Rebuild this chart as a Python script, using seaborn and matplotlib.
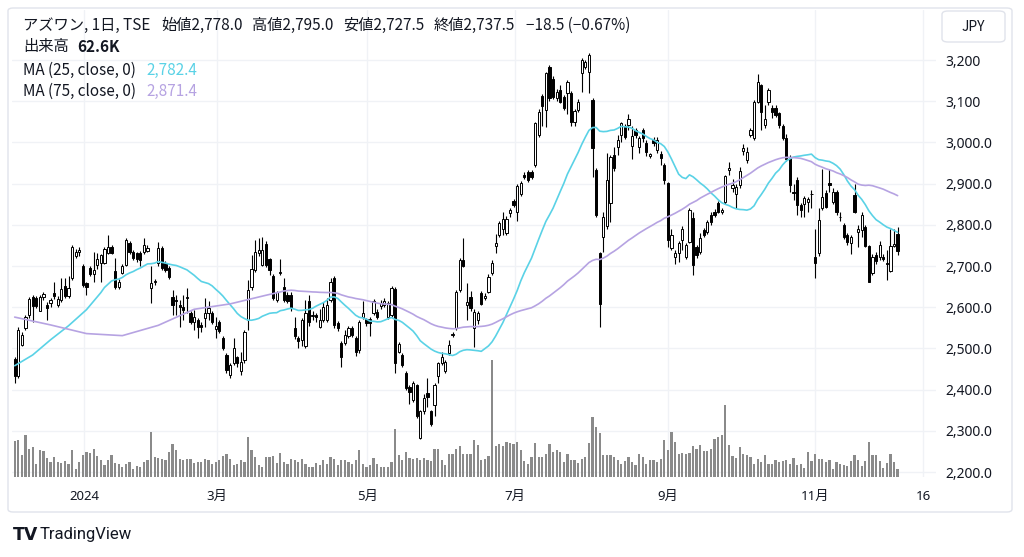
import numpy as np
import pandas as pd
import matplotlib
matplotlib.use("Agg")
import matplotlib.pyplot as plt
import seaborn as sns
from matplotlib.patches import FancyBboxPatch

# ---------------- data ----------------
opens = [2474,2432,2509,2549,2581,2626,2622,2592,2624,2606,2610,2634,2606,2618,2652,2627,2670,2725,2733,2699,2658,2695,2681,2703,2707,2708,2731,2747,2689,2650,2684,2703,2755,
         2735,2731,2731,2735,2737,2646,2660,2707,2743,2707,2695,2624,2618,2606,2600,2622,2585,2565,2569,2557,2573,2585,2585,2547,2565,2525,2484,2436,2464,2478,
         2444,2472,2569,2650,2690,2731,2703,2754,2716,2676,2618,2684,2650,2630,2630,2549,2525,2521,2505,2614,2578,2580,2553,2569,2569,2618,2670,2561,2513,2513,2529,
         2549,2525,2496,2577,2571,2572,2585,2589,2602,2606,2577,2581,2644,2492,2484,2440,2407,2375,2410,2282,2347,2391,2347,2363,2432,2464,2444,2488,2532,2549,2642,
         2714,2605,2626,2549,2569,2634,2623,2638,2682,2749,2775,2791,2779,2828,2858,2832,2876,2921,2929,2929,2945,3018,3113,3079,3184,3153,3107,3127,
         3111,3119,3119,3050,3078,3168,3184,3172,3103,2933,2731,2771,2796,2852,2969,2989,3018,3040,3042,2991,3030,2989,3030,2999,2967,3006,2981,2973,2945,2901,
         2743,2723,2731,2763,2723,2759,2816,2747,2735,2787,2783,2824,2832,2854,2830,2856,2933,2889,2876,2897,2978,2957,3018,3010,3099,3139,3042,3099,3083,3083,3071,
         3040,3010,2965,2880,2909,2848,2850,2856,2874,2721,2731,2840,2878,2902,2856,2880,2818,2800,2775,2755,2872,2783,2787,2795,2749,2682,2727,2723,2723,2707,2689,2749,2778]
highs = [2480,2552,2540,2581,2625,2630,2628,2630,2636,2612,2622,2660,2628,2670,2672,2675,2750,2742,2745,2705,2662,2700,2733,2731,2730,2745,2776,2752,2720,2668,2705,2768,2760,
         2740,2735,2736,2767,2750,2699,2668,2759,2748,2712,2700,2642,2630,2618,2630,2646,2590,2593,2575,2565,2622,2614,2590,2577,2570,2530,2490,2465,2525,2482,
         2492,2545,2666,2727,2763,2767,2771,2760,2720,2680,2640,2716,2672,2636,2636,2577,2530,2575,2618,2630,2590,2585,2595,2612,2622,2670,2675,2566,2518,2545,2555,
         2555,2530,2570,2614,2575,2576,2620,2595,2618,2622,2615,2652,2648,2515,2488,2444,2410,2420,2413,2350,2390,2428,2350,2415,2468,2492,2472,2520,2540,2642,2720,
         2767,2658,2640,2595,2590,2640,2634,2680,2714,2778,2810,2830,2822,2842,2862,2898,2906,2928,2934,2933,3050,3080,3118,3172,3188,3160,3130,3140,
         3115,3152,3125,3082,3105,3205,3200,3217,3108,2937,2735,2830,2975,2970,2990,3018,3050,3045,3070,3040,3036,3015,3035,3005,2975,3012,3012,2978,2950,2905,
         2790,2740,2760,2796,2755,2840,2830,2752,2780,2792,2812,2830,2838,2858,2842,2922,2953,2910,2898,2940,2995,2990,3035,3104,3167,3142,3090,3132,3090,3090,3075,
         3045,3020,2970,2900,2915,2852,2870,2868,2885,2790,2840,2935,2885,2935,2890,2885,2830,2805,2780,2776,2900,2800,2830,2800,2752,2730,2735,2760,2728,2740,2790,2790,2795]
lows = [2416,2428,2505,2545,2575,2565,2598,2590,2618,2569,2600,2620,2600,2612,2622,2622,2665,2720,2725,2650,2630,2675,2662,2692,2662,2705,2728,2728,2645,2645,2680,2700,2730,
        2714,2710,2700,2730,2733,2610,2655,2700,2690,2686,2668,2581,2581,2551,2569,2585,2560,2545,2525,2540,2553,2569,2560,2525,2538,2495,2440,2428,2460,2455,
        2436,2465,2545,2642,2686,2725,2700,2698,2678,2618,2612,2678,2612,2610,2592,2522,2500,2505,2500,2555,2570,2565,2549,2565,2565,2612,2550,2543,2456,2508,2525,
        2528,2482,2490,2572,2555,2529,2580,2572,2596,2600,2572,2576,2440,2488,2455,2398,2366,2370,2330,2280,2340,2358,2312,2335,2415,2460,2440,2484,2528,2545,2638,
        2698,2569,2590,2504,2560,2605,2618,2634,2678,2731,2770,2775,2775,2820,2843,2810,2870,2910,2904,2912,2940,3012,3040,3038,3100,3105,3100,3095,
        3078,3070,3040,3040,3074,3123,3178,3120,2917,2820,2553,2735,2790,2806,2930,2970,3000,3008,3030,2960,3010,2975,3000,2968,2962,2992,2975,2945,2900,2745,
        2738,2706,2710,2740,2718,2755,2678,2720,2728,2770,2778,2800,2818,2828,2826,2850,2920,2880,2840,2890,2970,2950,3012,3005,3095,3030,3035,3090,3060,3062,3035,
        3005,2955,2880,2860,2825,2820,2820,2830,2840,2672,2725,2835,2840,2880,2850,2825,2810,2765,2750,2730,2828,2745,2770,2745,2660,2678,2705,2715,2712,2665,2685,2745,2727.5]
closes = [2432,2545,2533,2577,2619,2603,2603,2624,2632,2598,2618,2627,2619,2644,2627,2646,2746,2735,2738,2654,2650,2681,2691,2716,2727,2741,2747,2731,2650,2662,2700,2762,2735,
          2719,2716,2715,2751,2743,2658,2663,2743,2695,2691,2674,2606,2616,2600,2594,2626,2565,2577,2551,2551,2585,2597,2565,2555,2543,2500,2448,2460,2500,2464,
          2468,2541,2642,2692,2735,2739,2739,2703,2690,2622,2636,2686,2618,2614,2598,2529,2517,2569,2585,2563,2580,2576,2569,2600,2606,2662,2557,2549,2480,2533,2549,
          2533,2492,2565,2585,2561,2561,2614,2577,2610,2614,2610,2646,2464,2511,2460,2403,2395,2415,2335,2347,2379,2383,2317,2411,2464,2480,2468,2509,2536,2638,2715,
          2701,2612,2597,2589,2585,2609,2627,2674,2708,2755,2805,2815,2815,2837,2848,2894,2902,2915,2908,2917,3046,3075,3088,3168,3107,3111,3123,3099,
          3083,3147,3050,3077,3099,3200,3194,3212,2986,2824,2609,2820,2909,2965,2937,3005,3046,3014,3058,3015,3018,3010,3010,2977,2971,2998,3006,2961,2909,2763,
          2775,2732,2755,2791,2751,2836,2702,2727,2767,2775,2808,2808,2824,2832,2836,2918,2937,2897,2893,2931,2986,2977,3030,3099,3147,3075,3058,3127,3075,3067,3042,
          3010,2960,2897,2878,2848,2836,2864,2862,2876,2707,2812,2867,2844,2897,2880,2832,2818,2771,2759,2771,2832,2791,2824,2749,2662,2723,2711,2751,2717,2706,2749,2754,2737.5]
volumes_k = [288,296,176,336,224,240,104,216,208,152,120,160,120,112,128,104,216,64,120,176,200,192,224,168,136,96,136,176,112,104,80,104,120,
             64,88,80,120,136,360,160,152,144,136,200,264,216,144,136,144,144,112,120,120,144,136,104,120,136,168,184,144,96,104,
             136,120,320,216,160,96,80,160,160,168,112,192,120,104,144,136,120,144,104,80,80,112,96,136,104,160,144,96,136,136,120,
             104,136,216,104,80,96,152,104,80,80,80,120,384,176,136,200,152,144,152,136,152,136,128,224,224,136,96,184,184,224,248,
             184,184,184,296,256,136,144,168,936,248,264,248,280,272,264,280,216,128,104,160,272,160,160,184,264,200,216,200,
             120,184,136,136,112,144,160,272,480,400,352,176,176,176,160,136,104,128,160,120,96,184,160,104,136,136,120,144,296,216,
             360,280,184,192,184,192,248,224,256,208,208,224,304,320,336,576,256,168,152,240,184,176,160,104,144,120,176,104,104,136,120,
             128,136,104,152,96,104,72,200,128,184,144,144,120,136,64,120,104,96,88,128,176,136,88,128,280,176,176,128,72,112,184,120,62.6]

# moving-average values before enough history is visible
ma25_head_idx = [0, 5, 10, 15, 20]
ma25_head_val = [2458, 2484, 2521, 2555, 2594]
ma75_head_idx = [0, 10, 20, 30, 40, 50, 60, 70]
ma75_head_val = [2576, 2557, 2536, 2531, 2556, 2595, 2608, 2629]

time_tick_idx = [19.3, 56.4, 98.2, 139.4, 181.9, 223.0, 253.1]
time_tick_lbl = ["2024", "3月", "5月", "7月", "9月", "11月", "16"]
price_ticks = [2200, 2300, 2400, 2500, 2600, 2700, 2800, 2900, 3000, 3100, 3200]
price_lbls = ["2,200.0", "2,300.0", "2,400.0", "2,500.0", "2,600.0", "2,700.0",
              "2,800.0", "2,900.0", "3,000.0", "3,100", "3,200"]

title_parts = ["アズワン, 1日, TSE", "始値2,778.0", "高値2,795.0", "安値2,727.5", "終値2,737.5", "−18.5 (−0.67%)"]
volume_label = ("出来高", "62.6K")
ma_labels = [("MA (25, close, 0)", "2,782.4"), ("MA (75, close, 0)", "2,871.4")]

# ---------------- style ----------------
sns.set_theme(style="white")
plt.rcParams['font.family'] = ['Noto Sans CJK JP', 'DejaVu Sans']
TXT = '#131722'
GRID = '#f0f2f6'
C25 = '#5ad2e6'
C75 = '#b6a3e2'

W, H = 1024, 557
fig = plt.figure(figsize=(W / 100, H / 100), dpi=100)
fig.patch.set_facecolor('white')

L, R, T, B = 12, 936, 10, 477
rect = [L / W, 1 - B / H, (R - L) / W, (B - T) / H]
ax = fig.add_axes(rect)      # grid + ticks
axv = fig.add_axes(rect)     # volume
axp = fig.add_axes(rect)     # candles
for a in (axv, axp):
    a.patch.set_alpha(0)
    a.set_xticks([]); a.set_yticks([])

N = len(closes)
idx = np.arange(N)
o = np.array(opens, float); c = np.array(closes, float)
hi = np.maximum(np.array(highs, float), np.maximum(o, c))
lo = np.minimum(np.array(lows, float), np.minimum(o, c))
vol = np.array(volumes_k, float)

xlim = (-0.75, 256.7)
ylim = (2187.9, 3321.4)
for a in (ax, axv, axp):
    a.set_xlim(*xlim)
    for s in a.spines.values():
        s.set_visible(False)
ax.set_ylim(*ylim)
axp.set_ylim(*ylim)
axv.set_ylim(0, (B - T) * 8)

# grid & ticks
ax.set_yticks(price_ticks)
ax.set_yticklabels(price_lbls)
ax.yaxis.tick_right()
ax.set_xticks(time_tick_idx)
ax.set_xticklabels(time_tick_lbl)
ax.tick_params(axis='y', length=0, pad=7, labelsize=10, colors=TXT)
ax.tick_params(axis='x', length=0, pad=9, labelsize=9.5, colors=TXT)
for lab in ax.get_yticklabels() + ax.get_xticklabels():
    lab.set_family(['Noto Sans', 'Noto Sans CJK JP'])
ax.get_xticklabels()[0].set_fontweight('bold')
ax.grid(True, color=GRID, linewidth=1)

# volume
axv.bar(idx, vol, width=0.62, color='#8a8a8a', linewidth=0)

# candles
up = c >= o
axp.vlines(idx, lo, hi, color='black', linewidth=0.8, zorder=2)
body_lo = np.minimum(o, c)
body_h = np.maximum(np.abs(c - o), 1.2)
axp.bar(idx[up], body_h[up], bottom=body_lo[up], width=0.62, color='white',
        edgecolor='black', linewidth=0.7, zorder=3)
axp.bar(idx[~up], body_h[~up], bottom=body_lo[~up], width=0.62, color='black',
        edgecolor='black', linewidth=0.7, zorder=3)

# moving averages
cs = pd.Series(c)
ma25 = cs.rolling(25).mean()
ma75 = cs.rolling(75).mean()
x25 = ma25_head_idx + list(range(24, N))
y25 = ma25_head_val + ma25.iloc[24:].tolist()
x75 = ma75_head_idx + list(range(74, N))
y75 = ma75_head_val + ma75.iloc[74:].tolist()
sns.lineplot(x=x25, y=y25, ax=axp, color=C25, linewidth=1.2, estimator=None, sort=False, zorder=4)
sns.lineplot(x=x75, y=y75, ax=axp, color=C75, linewidth=1.2, estimator=None, sort=False, zorder=4)
axp.set_xlim(*xlim); axp.set_ylim(*ylim)
axp.set_xlabel(''); axp.set_ylabel('')

# ---------------- header text ----------------
def ftext(x, y, s, **kw):
    fig.text(x / W, 1 - y / H, s, va='center', ha='left', **kw)

fs = 11
xs = [23, 161, 252, 343, 434, 526]
for x, s in zip(xs, title_parts):
    ftext(x, 25, s, fontsize=fs, color=TXT)
ftext(23, 47, volume_label[0], fontsize=fs, color=TXT)
ftext(77, 47, volume_label[1], fontsize=fs, color=TXT, fontweight='bold')
ftext(23, 70, ma_labels[0][0], fontsize=fs, color=TXT)
ftext(146, 70, ma_labels[0][1], fontsize=fs, color=C25)
ftext(23, 91, ma_labels[1][0], fontsize=fs, color=TXT)
ftext(146, 91, ma_labels[1][1], fontsize=fs, color=C75)

# JPY box
jb = FancyBboxPatch((942 / W, 1 - 42 / H), 63 / W, 31 / H,
                    boxstyle="round,pad=0,rounding_size=0.006",
                    transform=fig.transFigure, facecolor='white',
                    edgecolor='#e0e3eb', linewidth=1)
fig.patches.append(jb)
fig.text(973.5 / W, 1 - 27 / H, "JPY", ha='center', va='center', fontsize=10, color=TXT)

# outer frame
frame = FancyBboxPatch((8 / W, 1 - 512 / H), 1004 / W, 504 / H,
                       boxstyle="round,pad=0,rounding_size=0.005",
                       transform=fig.transFigure, facecolor='none',
                       edgecolor='#e0e3eb', linewidth=1)
fig.patches.append(frame)

# TradingView logo
fig.text(13 / W, 1 - 535 / H, "TV", fontsize=12.5, fontweight='black', color=TXT,
         va='center', ha='left', family='DejaVu Sans')
fig.text(40 / W, 1 - 535 / H, "TradingView", fontsize=12, color=TXT,
         va='center', ha='left', family='Roboto')

fig.savefig("out.png", dpi=100, facecolor='white')
